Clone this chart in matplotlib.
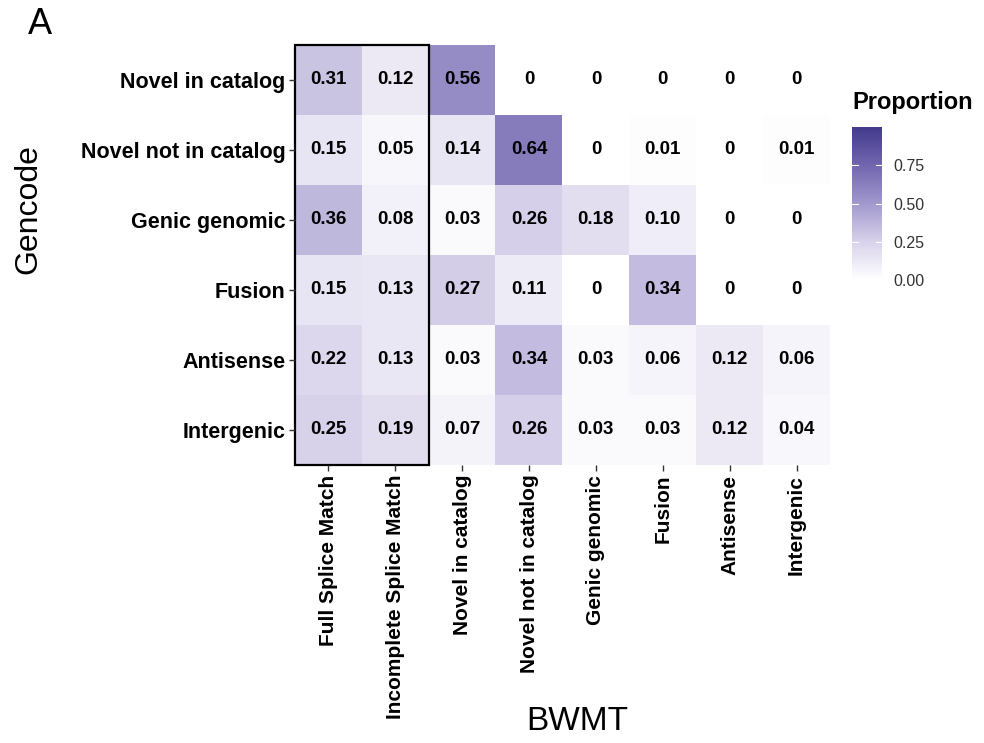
import numpy as np
import matplotlib
matplotlib.use("Agg")
import matplotlib.pyplot as plt
from matplotlib.colors import LinearSegmentedColormap
from matplotlib.patches import Rectangle

plt.rcParams['font.family'] = ['Liberation Sans', 'DejaVu Sans']

# data
bwmt = ['Full Splice Match', 'Incomplete Splice Match', 'Novel in catalog',
        'Novel not in catalog', 'Genic genomic', 'Fusion', 'Antisense', 'Intergenic']
gencode = ['Novel in catalog', 'Novel not in catalog', 'Genic genomic',
           'Fusion', 'Antisense', 'Intergenic']
row_nic = [0.31, 0.12, 0.56, 0, 0, 0, 0, 0]
row_nnc = [0.15, 0.05, 0.14, 0.64, 0, 0.01, 0, 0.01]
row_genic = [0.36, 0.08, 0.03, 0.26, 0.18, 0.10, 0, 0]
row_fusion = [0.15, 0.13, 0.27, 0.11, 0, 0.34, 0, 0]
row_antisense = [0.22, 0.13, 0.03, 0.34, 0.03, 0.06, 0.12, 0.06]
row_intergenic = [0.25, 0.19, 0.07, 0.26, 0.03, 0.03, 0.12, 0.04]

vals = np.array([row_nic, row_nnc, row_genic, row_fusion, row_antisense, row_intergenic])

cmap = LinearSegmentedColormap.from_list(
    'prop', [(0, '#ffffff'), (0.25, '#d8d2eb'), (0.5, '#a198cd'),
             (0.75, '#7266b0'), (1.0, '#423a8c')])

fig = plt.figure(figsize=(9.84, 7.43), dpi=100)
W, H = 984, 743
ax = fig.add_axes([295 / W, 1 - 465 / H, (830 - 295) / W, (465 - 45) / H])

ax.imshow(vals, cmap=cmap, vmin=0, vmax=1, aspect='auto', interpolation='nearest')
for i in range(vals.shape[0]):
    for j in range(vals.shape[1]):
        v = vals[i, j]
        txt = '0' if v == 0 else '%.2f' % v
        ax.text(j, i, txt, ha='center', va='center', fontsize=13.5, fontweight='bold')

# box around splice match columns
ax.add_patch(Rectangle((-0.5, -0.5), 2, 6, fill=False, edgecolor='black', lw=1.6, clip_on=False))

ax.set_xticks(range(len(bwmt)))
ax.set_xticklabels(bwmt, rotation=90, fontsize=15, fontweight='bold')
ax.set_yticks(range(len(gencode)))
ax.set_yticklabels(gencode, fontsize=15.5, fontweight='bold')
ax.tick_params(length=4, width=1, color='#333333', pad=3)
for s in ax.spines.values():
    s.set_visible(False)

fig.text(577 / W, 1 - 722 / H, 'BWMT', ha='center', va='center', fontsize=24)
fig.text(28 / W, 1 - 209 / H, 'Gencode', ha='center', va='center', fontsize=23, rotation=90)
fig.text(40 / W, 1 - 25 / H, 'A', ha='center', va='center', fontsize=26)

# colorbar
cax = fig.add_axes([852 / W, 1 - 280 / H, 30 / W, (280 - 127) / H])
sm = matplotlib.cm.ScalarMappable(cmap=cmap, norm=matplotlib.colors.Normalize(0, 1))
cb = fig.colorbar(sm, cax=cax, ticks=[0, 0.25, 0.5, 0.75])
cb.ax.set_yticklabels(['0.00', '0.25', '0.50', '0.75'])
cb.outline.set_visible(False)
cb.ax.tick_params(length=0, labelsize=11.5, colors='#333333', pad=8)
for t in [0.25, 0.5, 0.75]:
    cb.ax.plot([0, 0.2], [t, t], color='white', lw=0.8)
    cb.ax.plot([0.8, 1], [t, t], color='white', lw=0.8)
cb.ax.set_xlim(0, 1)
fig.text(852 / W, 1 - 103 / H, 'Proportion', ha='left', va='center', fontsize=17, fontweight='bold')

fig.savefig('out.png', dpi=100)
